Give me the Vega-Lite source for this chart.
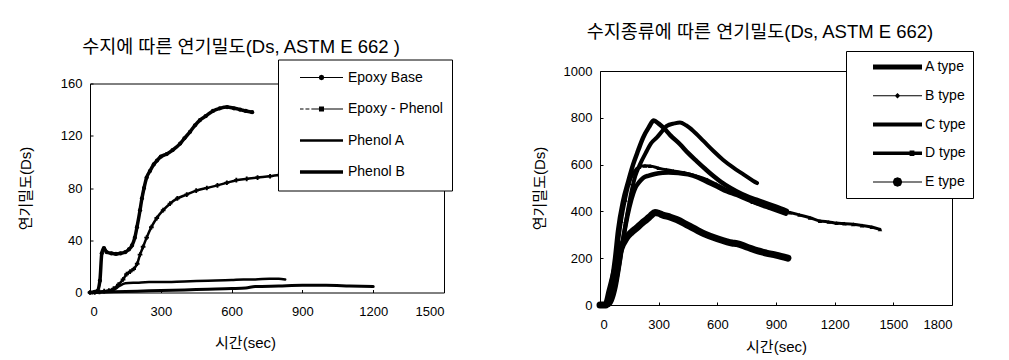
{
  "$schema": "https://vega.github.io/schema/vega-lite/v6.json",
  "background": "white",
  "padding": {"left": 17, "top": 22, "right": 0, "bottom": 0},
  "config": {
    "view": {"stroke": "black", "strokeWidth": 1},
    "font": "'Liberation Sans','Noto Sans CJK KR',sans-serif",
    "axis": {"grid": false, "domain": false, "tickColor": "black", "tickSize": -3, "labelColor": "black", "titleColor": "black", "labelFont": "'Liberation Sans',sans-serif", "labelFontSize": 13, "titleFont": "'Liberation Sans','Noto Sans CJK KR',sans-serif", "titleFontSize": 15, "titleFontWeight": "normal", "format": "d"},
    "title": {"fontSize": 18.5, "fontWeight": "normal", "color": "black", "font": "'Liberation Sans','Noto Sans CJK KR',sans-serif"}
  },
  "spacing": 156,
  "bounds": "flush",
  "center": true,
  "resolve": {"scale": {"shape": "independent", "strokeWidth": "independent"}, "legend": {"shape": "independent", "strokeWidth": "independent"}},
  "datasets": {
    "left": [
      {"s":"Epoxy Base","t":0,"v":0},{"s":"Epoxy Base","t":10,"v":0},{"s":"Epoxy Base","t":20,"v":0.5},{"s":"Epoxy Base","t":30,"v":1},{"s":"Epoxy Base","t":42,"v":9},{"s":"Epoxy Base","t":50,"v":30},{"s":"Epoxy Base","t":59,"v":34},{"s":"Epoxy Base","t":70,"v":31},{"s":"Epoxy Base","t":90,"v":30},{"s":"Epoxy Base","t":110,"v":29.5},{"s":"Epoxy Base","t":130,"v":30},{"s":"Epoxy Base","t":150,"v":31},{"s":"Epoxy Base","t":165,"v":33},{"s":"Epoxy Base","t":178,"v":36},{"s":"Epoxy Base","t":190,"v":42},{"s":"Epoxy Base","t":199,"v":50},{"s":"Epoxy Base","t":212,"v":63},{"s":"Epoxy Base","t":220,"v":72},{"s":"Epoxy Base","t":229,"v":80},{"s":"Epoxy Base","t":240,"v":88},{"s":"Epoxy Base","t":254,"v":93},{"s":"Epoxy Base","t":270,"v":98},{"s":"Epoxy Base","t":284,"v":101},{"s":"Epoxy Base","t":300,"v":104},{"s":"Epoxy Base","t":325,"v":106},{"s":"Epoxy Base","t":350,"v":109},{"s":"Epoxy Base","t":382,"v":114},{"s":"Epoxy Base","t":400,"v":118},{"s":"Epoxy Base","t":424,"v":123},{"s":"Epoxy Base","t":445,"v":128},{"s":"Epoxy Base","t":466,"v":132},{"s":"Epoxy Base","t":490,"v":135},{"s":"Epoxy Base","t":521,"v":139},{"s":"Epoxy Base","t":550,"v":141},{"s":"Epoxy Base","t":581,"v":142},{"s":"Epoxy Base","t":610,"v":141},{"s":"Epoxy Base","t":636,"v":140},{"s":"Epoxy Base","t":660,"v":139},{"s":"Epoxy Base","t":687,"v":138},
      {"s":"Epoxy - Phenol","t":0,"v":0},{"s":"Epoxy - Phenol","t":20,"v":0},{"s":"Epoxy - Phenol","t":40,"v":0.5},{"s":"Epoxy - Phenol","t":60,"v":1},{"s":"Epoxy - Phenol","t":80,"v":1.5},{"s":"Epoxy - Phenol","t":100,"v":3},{"s":"Epoxy - Phenol","t":120,"v":6},{"s":"Epoxy - Phenol","t":140,"v":10},{"s":"Epoxy - Phenol","t":155,"v":14},{"s":"Epoxy - Phenol","t":170,"v":16},{"s":"Epoxy - Phenol","t":185,"v":18},{"s":"Epoxy - Phenol","t":200,"v":22},{"s":"Epoxy - Phenol","t":212,"v":29},{"s":"Epoxy - Phenol","t":225,"v":35},{"s":"Epoxy - Phenol","t":240,"v":42},{"s":"Epoxy - Phenol","t":260,"v":50},{"s":"Epoxy - Phenol","t":283,"v":57},{"s":"Epoxy - Phenol","t":310,"v":63},{"s":"Epoxy - Phenol","t":339,"v":68},{"s":"Epoxy - Phenol","t":370,"v":72},{"s":"Epoxy - Phenol","t":410,"v":75},{"s":"Epoxy - Phenol","t":450,"v":78},{"s":"Epoxy - Phenol","t":495,"v":80},{"s":"Epoxy - Phenol","t":540,"v":82},{"s":"Epoxy - Phenol","t":580,"v":84},{"s":"Epoxy - Phenol","t":620,"v":86},{"s":"Epoxy - Phenol","t":664,"v":87},{"s":"Epoxy - Phenol","t":710,"v":88},{"s":"Epoxy - Phenol","t":763,"v":89},{"s":"Epoxy - Phenol","t":800,"v":90},{"s":"Epoxy - Phenol","t":850,"v":91},{"s":"Epoxy - Phenol","t":900,"v":91},
      {"s":"Phenol A","t":0,"v":0},{"s":"Phenol A","t":50,"v":0.5},{"s":"Phenol A","t":100,"v":2},{"s":"Phenol A","t":125,"v":5},{"s":"Phenol A","t":150,"v":7},{"s":"Phenol A","t":200,"v":7.5},{"s":"Phenol A","t":250,"v":8},{"s":"Phenol A","t":300,"v":8},{"s":"Phenol A","t":400,"v":8.5},{"s":"Phenol A","t":500,"v":9},{"s":"Phenol A","t":600,"v":9.5},{"s":"Phenol A","t":650,"v":10},{"s":"Phenol A","t":700,"v":10},{"s":"Phenol A","t":760,"v":10.5},{"s":"Phenol A","t":800,"v":10.5},{"s":"Phenol A","t":827,"v":10},
      {"s":"Phenol B","t":0,"v":0},{"s":"Phenol B","t":100,"v":0.5},{"s":"Phenol B","t":200,"v":1},{"s":"Phenol B","t":300,"v":1.5},{"s":"Phenol B","t":400,"v":2},{"s":"Phenol B","t":500,"v":2.5},{"s":"Phenol B","t":600,"v":3},{"s":"Phenol B","t":660,"v":3.5},{"s":"Phenol B","t":700,"v":4.5},{"s":"Phenol B","t":800,"v":5},{"s":"Phenol B","t":900,"v":5.5},{"s":"Phenol B","t":1000,"v":5.5},{"s":"Phenol B","t":1100,"v":5},{"s":"Phenol B","t":1200,"v":4.5}
    ],
    "right": [
      {"s":"A type","t":0,"v":0},{"s":"A type","t":30,"v":0},{"s":"A type","t":51,"v":60},{"s":"A type","t":77,"v":200},{"s":"A type","t":92,"v":316},{"s":"A type","t":118,"v":444},{"s":"A type","t":145,"v":530},{"s":"A type","t":170,"v":602},{"s":"A type","t":195,"v":660},{"s":"A type","t":220,"v":714},{"s":"A type","t":250,"v":760},{"s":"A type","t":275,"v":788},{"s":"A type","t":300,"v":775},{"s":"A type","t":324,"v":758},{"s":"A type","t":360,"v":725},{"s":"A type","t":409,"v":687},{"s":"A type","t":450,"v":650},{"s":"A type","t":494,"v":615},{"s":"A type","t":540,"v":580},{"s":"A type","t":580,"v":551},{"s":"A type","t":620,"v":525},{"s":"A type","t":665,"v":501},{"s":"A type","t":700,"v":485},{"s":"A type","t":750,"v":465},{"s":"A type","t":800,"v":450},{"s":"A type","t":835,"v":440},{"s":"A type","t":900,"v":420},{"s":"A type","t":955,"v":402},
      {"s":"B type","t":0,"v":0},{"s":"B type","t":30,"v":0},{"s":"B type","t":50,"v":30},{"s":"B type","t":70,"v":120},{"s":"B type","t":90,"v":240},{"s":"B type","t":110,"v":360},{"s":"B type","t":130,"v":450},{"s":"B type","t":150,"v":520},{"s":"B type","t":175,"v":570},{"s":"B type","t":200,"v":590},{"s":"B type","t":230,"v":595},{"s":"B type","t":256,"v":594},{"s":"B type","t":300,"v":585},{"s":"B type","t":340,"v":578},{"s":"B type","t":375,"v":573},{"s":"B type","t":430,"v":565},{"s":"B type","t":494,"v":551},{"s":"B type","t":550,"v":535},{"s":"B type","t":596,"v":516},{"s":"B type","t":650,"v":492},{"s":"B type","t":716,"v":466},{"s":"B type","t":780,"v":440},{"s":"B type","t":869,"v":416},{"s":"B type","t":920,"v":405},{"s":"B type","t":972,"v":395},{"s":"B type","t":1020,"v":385},{"s":"B type","t":1074,"v":373},{"s":"B type","t":1125,"v":359},{"s":"B type","t":1170,"v":355},{"s":"B type","t":1210,"v":350},{"s":"B type","t":1250,"v":348},{"s":"B type","t":1295,"v":345},{"s":"B type","t":1340,"v":340},{"s":"B type","t":1390,"v":333},{"s":"B type","t":1432,"v":323},
      {"s":"C type","t":0,"v":0},{"s":"C type","t":40,"v":0},{"s":"C type","t":60,"v":20},{"s":"C type","t":80,"v":80},{"s":"C type","t":100,"v":180},{"s":"C type","t":120,"v":290},{"s":"C type","t":140,"v":380},{"s":"C type","t":160,"v":450},{"s":"C type","t":180,"v":500},{"s":"C type","t":200,"v":525},{"s":"C type","t":222,"v":544},{"s":"C type","t":250,"v":553},{"s":"C type","t":280,"v":560},{"s":"C type","t":320,"v":565},{"s":"C type","t":350,"v":566},{"s":"C type","t":400,"v":564},{"s":"C type","t":450,"v":558},{"s":"C type","t":500,"v":545},{"s":"C type","t":550,"v":525},{"s":"C type","t":600,"v":505},{"s":"C type","t":650,"v":485},{"s":"C type","t":700,"v":470},{"s":"C type","t":750,"v":452},{"s":"C type","t":800,"v":435},{"s":"C type","t":850,"v":420},{"s":"C type","t":900,"v":405},{"s":"C type","t":950,"v":390},
      {"s":"D type","t":0,"v":0},{"s":"D type","t":40,"v":0},{"s":"D type","t":60,"v":30},{"s":"D type","t":80,"v":90},{"s":"D type","t":100,"v":180},{"s":"D type","t":120,"v":290},{"s":"D type","t":140,"v":390},{"s":"D type","t":160,"v":480},{"s":"D type","t":180,"v":550},{"s":"D type","t":205,"v":602},{"s":"D type","t":239,"v":658},{"s":"D type","t":260,"v":690},{"s":"D type","t":290,"v":715},{"s":"D type","t":320,"v":745},{"s":"D type","t":341,"v":765},{"s":"D type","t":380,"v":776},{"s":"D type","t":409,"v":780},{"s":"D type","t":440,"v":768},{"s":"D type","t":477,"v":744},{"s":"D type","t":530,"v":700},{"s":"D type","t":580,"v":658},{"s":"D type","t":630,"v":620},{"s":"D type","t":682,"v":587},{"s":"D type","t":730,"v":560},{"s":"D type","t":784,"v":530},{"s":"D type","t":803,"v":521},
      {"s":"E type","t":0,"v":0},{"s":"E type","t":30,"v":0},{"s":"E type","t":51,"v":60},{"s":"E type","t":77,"v":145},{"s":"E type","t":102,"v":231},{"s":"E type","t":136,"v":288},{"s":"E type","t":160,"v":310},{"s":"E type","t":188,"v":330},{"s":"E type","t":215,"v":350},{"s":"E type","t":239,"v":366},{"s":"E type","t":260,"v":382},{"s":"E type","t":281,"v":395},{"s":"E type","t":300,"v":392},{"s":"E type","t":320,"v":385},{"s":"E type","t":360,"v":375},{"s":"E type","t":392,"v":365},{"s":"E type","t":450,"v":340},{"s":"E type","t":500,"v":318},{"s":"E type","t":537,"v":303},{"s":"E type","t":600,"v":283},{"s":"E type","t":650,"v":270},{"s":"E type","t":675,"v":265},{"s":"E type","t":700,"v":262},{"s":"E type","t":750,"v":248},{"s":"E type","t":808,"v":231},{"s":"E type","t":850,"v":222},{"s":"E type","t":900,"v":213},{"s":"E type","t":961,"v":200}
    ]
  },
  "hconcat": [
    {
      "width": 354,
      "height": 209,
      "title": {"text": "수지에 따른 연기밀도(Ds, ASTM E 662 )", "offset": 3, "dx": -26},
      "data": {"name": "left"},
      "layer": [
        {
          "mark": {"type": "line", "stroke": "black", "interpolate": "monotone", "strokeJoin": "round", "strokeCap": "round"},
          "encoding": {
            "x": {"field": "t", "type": "quantitative", "scale": {"domain": [0, 1500], "nice": false}, "axis": {"values": [0, 300, 600, 900, 1200, 1500], "title": "시간(sec)", "titleX": 155, "titlePadding": 17, "labelPadding": 16}},
            "y": {"field": "v", "type": "quantitative", "scale": {"domain": [0, 160], "nice": false}, "axis": {"values": [0, 40, 80, 120, 160], "title": "연기밀도(Ds)", "titlePadding": 27, "labelPadding": 11}},
            "strokeWidth": {"field": "s", "type": "ordinal", "scale": {"type": "ordinal", "domain": ["Phenol B", "Phenol A", "Epoxy - Phenol", "Epoxy Base"], "range": [3, 2.5, 2.5, 3.5]}, "legend": null}
          }
        },
        {
          "transform": [{"filter": {"field": "s", "equal": "Epoxy Base"}}],
          "mark": {"type": "point", "shape": "circle", "filled": true, "color": "black", "opacity": 1, "size": 18},
          "encoding": {"x": {"field": "t", "type": "quantitative"}, "y": {"field": "v", "type": "quantitative"}}
        },
        {
          "transform": [{"filter": {"field": "s", "equal": "Epoxy - Phenol"}}],
          "mark": {"type": "point", "shape": "cross", "filled": true, "color": "black", "opacity": 1, "size": 22},
          "encoding": {"x": {"field": "t", "type": "quantitative"}, "y": {"field": "v", "type": "quantitative"}}
        },
        {
          "mark": {"type": "point", "filled": true, "color": "black", "opacity": 0},
          "encoding": {
            "x": {"field": "t", "type": "quantitative"},
            "y": {"field": "v", "type": "quantitative"},
            "shape": {"field": "s", "type": "nominal",
              "scale": {"domain": ["Epoxy Base", "Epoxy - Phenol", "Phenol A", "Phenol B"],
                "range": [
                  "M-0.536,-0.022H1V0.022H-0.536Z M0.332,0L0.303,0.071L0.232,0.1L0.161,0.071L0.132,0L0.161,-0.071L0.232,-0.1L0.303,-0.071Z",
                  "M-0.536,-0.022H-0.41V0.022H-0.536Z M-0.34,-0.022H-0.2V0.022H-0.34Z M-0.13,-0.022H1V0.022H-0.13Z M0.142,-0.09H0.322V0.09H0.142Z",
                  "M-0.536,-0.045H1V0.045H-0.536Z",
                  "M-0.536,-0.065H1V0.065H-0.536Z"
                ]},
              "legend": {"orient": "none", "legendX": 188, "legendY": -24, "title": null, "padding": 9, "rowPadding": 13.5, "clipHeight": 18, "symbolSize": 3136, "symbolFillColor": "black", "symbolStrokeColor": "black", "symbolStrokeWidth": 0, "symbolOpacity": 1, "labelFontSize": 14, "labelFont": "'Liberation Sans',sans-serif", "labelColor": "black", "labelOffset": 5, "labelLimit": 300, "strokeColor": "black", "fillColor": "white", "encode": {"symbols": {"update": {"opacity": {"value": 1}}}}}
            }
          }
        }
      ]
    },
    {
      "width": 352,
      "height": 234,
      "title": {"text": "수지종류에 따른 연기밀도(Ds, ASTM E 662)", "offset": 9, "dx": -16},
      "data": {"name": "right"},
      "layer": [
        {
          "mark": {"type": "line", "stroke": "black", "interpolate": "monotone", "strokeJoin": "round", "strokeCap": "round"},
          "encoding": {
            "x": {"field": "t", "type": "quantitative", "scale": {"domain": [0, 1800], "nice": false}, "axis": {"values": [0, 300, 600, 900, 1200, 1500, 1800], "title": "시간(sec)", "titlePadding": 8, "labelPadding": 16}},
            "y": {"field": "v", "type": "quantitative", "scale": {"domain": [0, 1000], "nice": false}, "axis": {"values": [0, 200, 400, 600, 800, 1000], "title": "연기밀도(Ds)", "titlePadding": 16, "labelPadding": 11}},
            "strokeWidth": {"field": "s", "type": "ordinal", "scale": {"type": "ordinal", "domain": ["E type", "D type", "C type", "B type", "A type"], "range": [7, 4, 4.5, 3, 4.5]}, "legend": null}
          }
        },
        {
          "transform": [{"filter": {"field": "s", "equal": "B type"}}],
          "mark": {"type": "point", "shape": "triangle-up", "filled": true, "color": "black", "opacity": 1, "size": 20},
          "encoding": {"x": {"field": "t", "type": "quantitative"}, "y": {"field": "v", "type": "quantitative"}}
        },
        {
          "mark": {"type": "point", "filled": true, "color": "black", "opacity": 0},
          "encoding": {
            "x": {"field": "t", "type": "quantitative"},
            "y": {"field": "v", "type": "quantitative"},
            "shape": {"field": "s", "type": "nominal",
              "scale": {"domain": ["A type", "B type", "C type", "D type", "E type"],
                "range": [
                  "M-0.42,-0.075H1V0.075H-0.42Z",
                  "M-0.42,-0.015H1V0.015H-0.42Z M0.29,-0.08L0.37,0L0.29,0.08L0.21,0Z",
                  "M-0.42,-0.06H1V0.06H-0.42Z",
                  "M-0.42,-0.05H1V0.05H-0.42Z M0.64,-0.08H0.78V0.08H0.64Z",
                  "M-0.42,-0.015H1V0.015H-0.42Z M0.43,0L0.389,0.099L0.29,0.14L0.191,0.099L0.15,0L0.191,-0.099L0.29,-0.14L0.389,-0.099Z"
                ]},
              "legend": {"orient": "none", "legendX": 246, "legendY": -20, "title": null, "padding": 7, "rowPadding": 10.75, "clipHeight": 18, "symbolSize": 4761, "symbolFillColor": "black", "symbolStrokeColor": "black", "symbolStrokeWidth": 0, "symbolOpacity": 1, "labelFontSize": 14, "labelFont": "'Liberation Sans',sans-serif", "labelColor": "black", "labelOffset": 3, "labelLimit": 300, "strokeColor": "black", "fillColor": "white", "encode": {"symbols": {"update": {"opacity": {"value": 1}}}}}
            }
          }
        }
      ]
    }
  ]
}
